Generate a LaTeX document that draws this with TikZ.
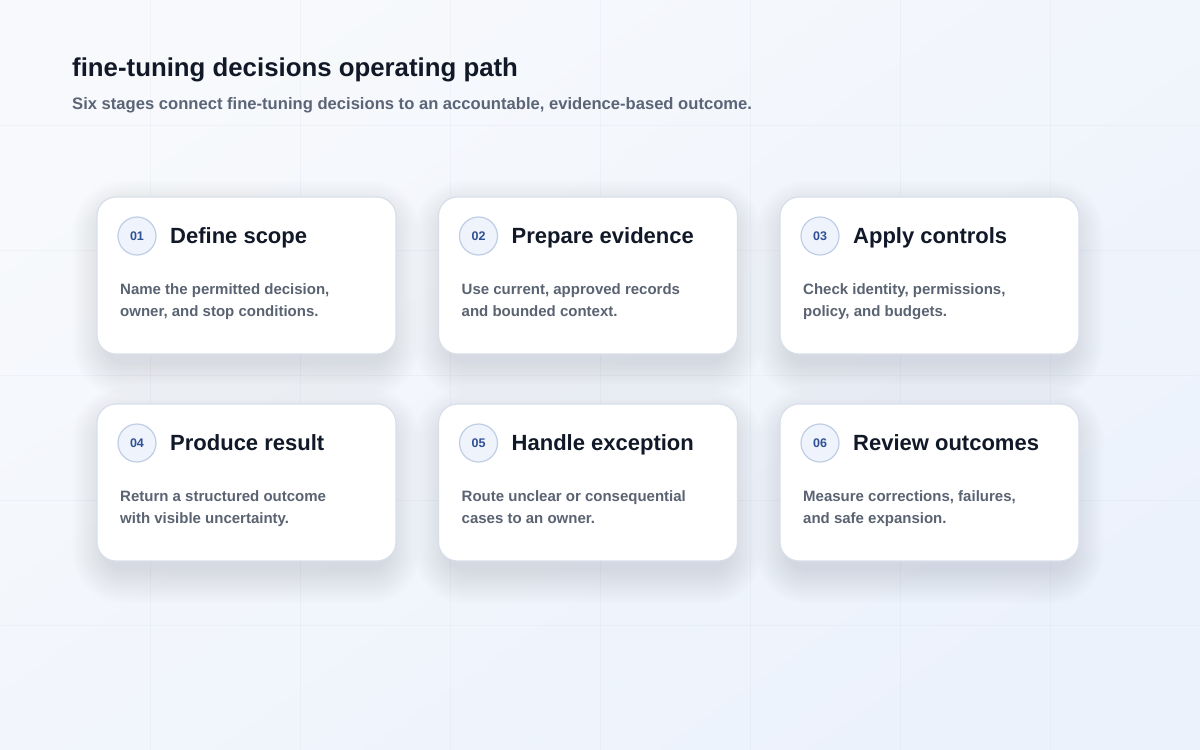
\documentclass[tikz,border=0pt]{standalone}
\usepackage{fontspec}
\setmainfont{Liberation Sans}
\definecolor{bgA}{HTML}{F7F9FC}
\definecolor{bgB}{HTML}{ECF2FC}
\definecolor{gridc}{HTML}{1E3566}
\definecolor{cardline}{HTML}{D8DFEA}
\definecolor{shadowc}{HTML}{1E3566}
\definecolor{titlec}{HTML}{111827}
\definecolor{subc}{HTML}{5B6577}
\definecolor{bodyc}{HTML}{5A6372}
\definecolor{numfill}{HTML}{EEF3FC}
\definecolor{numline}{HTML}{BFCDE5}
\definecolor{numtext}{HTML}{2F5093}
\tikzset{
  card/.style={draw=cardline, line width=1.2pt, fill=white, rounded corners=19pt},
  gridline/.style={draw=gridc, draw opacity=0.03, line width=1pt},
  numc/.style={circle, draw=numline, fill=numfill, line width=1.2pt, minimum size=38pt, inner sep=0pt,
    font=\fontsize{12.5}{14}\selectfont\bfseries, text=numtext},
  ctitle/.style={anchor=base west, inner sep=0pt, font=\fontsize{22}{26}\selectfont\bfseries, text=titlec},
  cbody/.style={anchor=base west, inner sep=0pt, font=\fontsize{15}{22}\selectfont\bfseries, text=bodyc},
  htitle/.style={anchor=base west, inner sep=0pt, font=\fontsize{25.8}{30}\selectfont\bfseries, text=titlec},
  hsub/.style={anchor=base west, inner sep=0pt, font=\fontsize{16.6}{20}\selectfont\bfseries, text=subc},
}
\begin{document}
\begin{tikzpicture}[x=1pt,y=-1pt]
\useasboundingbox (0,0) rectangle (1200,750);
\shade[top color=bgA, bottom color=bgB, shading angle=35] (0,0) rectangle (1200,750);
\foreach \gx in {150,300,...,1050} \draw[gridline] (\gx,0) -- (\gx,750);
\foreach \gy in {125,250,...,625} \draw[gridline] (0,\gy) -- (1200,\gy);

\node[htitle] (title) at (72,76) {fine-tuning decisions operating path};
\node[hsub] (subtitle) at (72,109) {Six stages connect fine-tuning decisions to an accountable, evidence-based outcome.};

% shadows
\foreach \cx/\cy in {97/197,438.5/197,780/197,97/404,438.5/404,780/404}{
  \foreach \k in {0,...,13}{
    \pgfmathsetmacro{\e}{\k*2.5}
    \pgfmathsetmacro{\r}{19+\e}
    \fill[shadowc, opacity=0.0065, rounded corners=\r pt]
      (\cx+8-\e,\cy+16-\e) rectangle (\cx+291+\e,\cy+167+\e);
  }
}

% cards
\foreach \i/\cx/\cy/\t/\la/\lb in {
  01/97/197/{Define scope}/{Name the permitted decision,}/{owner, and stop conditions.},
  02/438.5/197/{Prepare evidence}/{Use current, approved records}/{and bounded context.},
  03/780/197/{Apply controls}/{Check identity, permissions,}/{policy, and budgets.},
  04/97/404/{Produce result}/{Return a structured outcome}/{with visible uncertainty.},
  05/438.5/404/{Handle exception}/{Route unclear or consequential}/{cases to an owner.},
  06/780/404/{Review outcomes}/{Measure corrections, failures,}/{and safe expansion.}}{
  \draw[card] (\cx,\cy) rectangle ++(299,157);
  \coordinate (card\i) at (\cx,\cy);
  \node[numc] (num\i) at (\cx+40,\cy+39) {\i};
  \node[ctitle] (head\i) at (\cx+73,\cy+46.5) {\t};
  \node[cbody] (bodyA\i) at (\cx+23,\cy+97) {\la};
  \node[cbody] (bodyB\i) at (\cx+23,\cy+119) {\lb};
}
\end{tikzpicture}
\end{document}
